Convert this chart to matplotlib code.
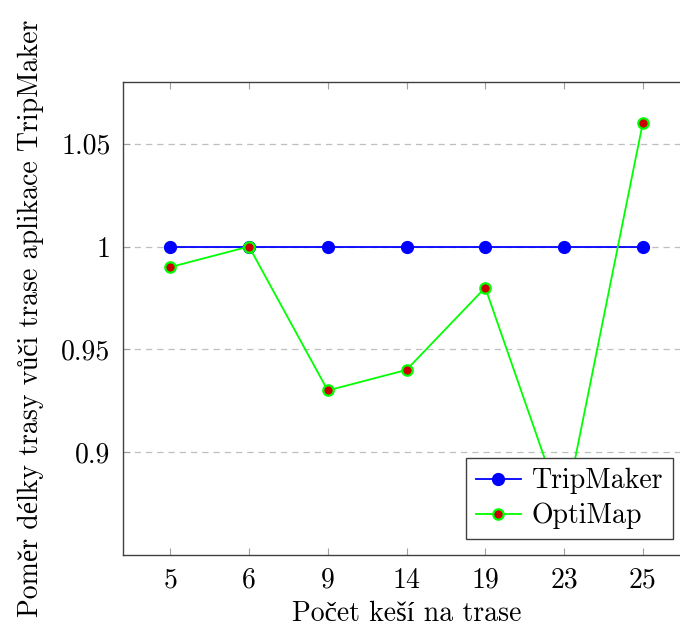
import matplotlib
matplotlib.use("Agg")
import matplotlib.pyplot as plt

# data
caches = ["5", "6", "9", "14", "19", "23", "25"]
tripmaker = [1.0, 1.0, 1.0, 1.0, 1.0, 1.0, 1.0]
optimap = [0.99, 1.0, 0.93, 0.94, 0.98, 0.87, 1.06]
yticks = [0.9, 0.95, 1.0, 1.05]
ytick_labels = ["0.9", "0.95", "1", "1.05"]

plt.rcParams["font.family"] = ["cmr10", "Liberation Serif"]
plt.rcParams["font.size"] = 20
plt.rcParams["axes.unicode_minus"] = False

fig = plt.figure(figsize=(6.8, 6.3), dpi=100)
# the original is cropped on the right, so the axes run past the figure edge
ax = fig.add_axes([123 / 680, 75 / 630, 567 / 680, 473 / 630])

x = list(range(len(caches)))
ax.plot(x, tripmaker, color="#0000ff", lw=1.3, marker="o", ms=8.5,
        mfc="#0000ff", mec="#0000ff", label="TripMaker", zorder=3)
ax.plot(x, optimap, color="#00ff00", lw=1.3, marker="o", ms=7.5,
        mfc="#cc0000", mec="#00ff00", mew=1.6, label="OptiMap", zorder=3)

ax.set_xlim(-0.6, len(caches) - 0.4)
ax.set_ylim(0.85, 1.08)
ax.set_xticks(x)
ax.set_xticklabels(caches)
ax.set_yticks(yticks)
ax.set_yticklabels(ytick_labels)

ax.yaxis.grid(True, color="#bfbfbf", ls=(0, (5, 4)), lw=0.9)
ax.set_axisbelow(True)
ax.tick_params(direction="in", length=5, color="#a0a0a0", top=True, pad=9)
for s in ax.spines.values():
    s.set_color("#404040")
    s.set_linewidth(1.0)

ax.set_xlabel("Počet keší na trase", labelpad=5)
ax.set_ylabel("Poměr délky trasy vůči trase aplikace TripMaker", labelpad=12)

leg = ax.legend(loc="lower right", bbox_to_anchor=(673 / 680, 91 / 630),
                bbox_transform=fig.transFigure, borderaxespad=0,
                fancybox=False, edgecolor="#404040", framealpha=1,
                handlelength=1.6, handletextpad=0.4, borderpad=0.35,
                labelspacing=0.3)
leg.get_frame().set_linewidth(1.0)

fig.savefig("out.png", dpi=100)
